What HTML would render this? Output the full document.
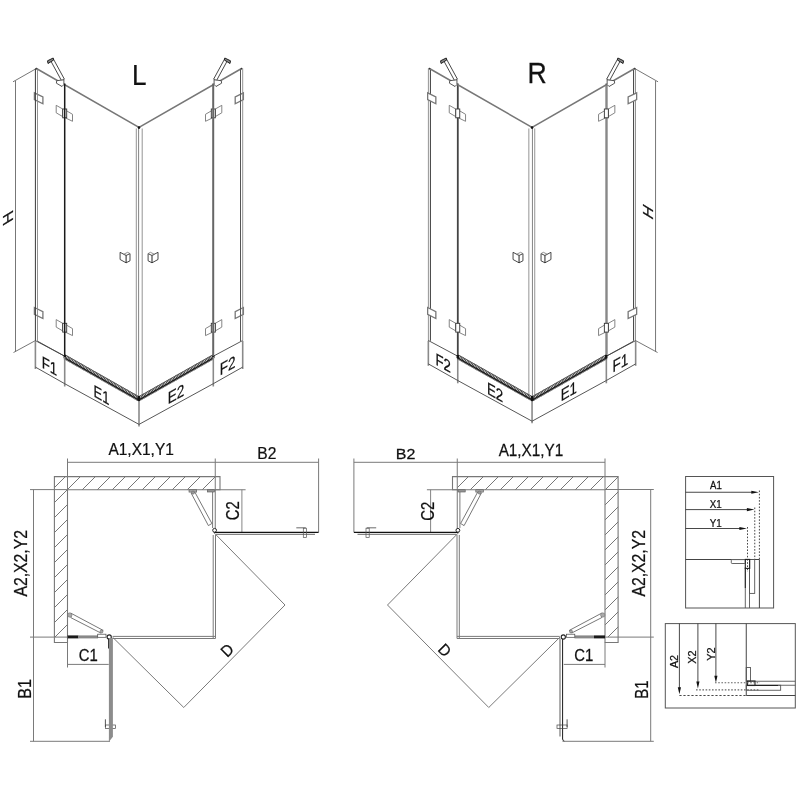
<!DOCTYPE html>
<html><head><meta charset="utf-8"><style>
html,body{margin:0;padding:0;background:#fff;}
svg{display:block;}
text{font-family:"Liberation Sans", sans-serif;fill:#111;stroke:#111;stroke-width:0.25px;}
svg{filter:grayscale(100%);}
</style></head><body>
<svg width="800" height="800" viewBox="0 0 800 800">
<rect width="800" height="800" fill="#fff"/>
<defs><clipPath id="wl"><polygon points="54.4,476.6 215.25,476.6 215.25,489.75 67.5,489.75 67.5,637.1 54.4,637.1"/></clipPath>
<clipPath id="wr"><polygon points="618.2,476.6 457.35,476.6 457.35,489.75 605.1,489.75 605.1,637.1 618.2,637.1"/></clipPath></defs>
<g id="iso">
<polyline points="36.40,68.50 139.00,127.30 241.60,68.50" stroke="#777" stroke-width="1.5" fill="none" />
<line x1="136.30" y1="128.50" x2="136.30" y2="395.50" stroke="#888" stroke-width="0.9" />
<line x1="138.60" y1="127.50" x2="138.60" y2="397.00" stroke="#777" stroke-width="0.9" />
<line x1="142.20" y1="128.50" x2="142.20" y2="395.50" stroke="#888" stroke-width="0.9" />
<polyline points="64.70,356.90 138.80,398.90 213.30,356.90" stroke="#3c3c3c" stroke-width="4.6" fill="none" stroke-dasharray="1.0,0.6" stroke-linejoin="miter"/>
<polyline points="64.70,354.60 138.80,396.60 213.30,354.60" stroke="#555" stroke-width="0.9" fill="none" />
<polyline points="64.70,359.20 138.80,401.20 213.30,359.20" stroke="#888" stroke-width="0.8" fill="none" />
<polyline points="64.70,358.00 138.80,400.00 213.30,358.00" stroke="#1a1a1a" stroke-width="1.4" fill="none" />
<polyline points="35.40,340.60 64.70,356.20" stroke="#444" stroke-width="0.9" fill="none" />
<polyline points="37.50,341.20 64.70,356.20" stroke="#444" stroke-width="0.9" fill="none" />
<polyline points="213.30,356.20 242.70,340.50" stroke="#444" stroke-width="0.9" fill="none" />
<circle cx="139" cy="127.6" r="1.3" fill="#111"/>
<rect x="63.6" y="355" width="2.4" height="3" fill="#111"/>
<rect x="212.1" y="355" width="2.4" height="3" fill="#111"/>
<rect x="137.6" y="396" width="2.4" height="5" fill="#111"/>
<circle cx="36.4" cy="68.6" r="0.9" fill="#333"/>
<circle cx="241.6" cy="68.6" r="0.9" fill="#333"/>
<polygon points="34.40,92.80 42.90,97.00 42.90,103.80 34.40,99.60" stroke="#777" stroke-width="1.3" fill="#fff" />
<polygon points="243.40,92.80 235.20,97.00 235.20,103.80 243.40,99.60" stroke="#777" stroke-width="1.3" fill="#fff" />
<polygon points="34.40,307.50 42.90,311.70 42.90,318.50 34.40,314.30" stroke="#777" stroke-width="1.3" fill="#fff" />
<polygon points="243.40,307.50 235.20,311.70 235.20,318.50 243.40,314.30" stroke="#777" stroke-width="1.3" fill="#fff" />
<polygon points="56.20,105.30 62.70,109.00 62.70,116.60 56.20,112.80" stroke="#777" stroke-width="0.9" fill="#fff" />
<polygon points="65.70,110.30 72.50,114.30 72.50,121.30 65.70,118.00" stroke="#777" stroke-width="0.9" fill="#fff" />
<rect x="62.70" y="109.00" width="4" height="8.8" fill="#fff" stroke="#333" stroke-width="0.9"/>
<polygon points="221.80,105.30 215.30,109.00 215.30,116.60 221.80,112.80" stroke="#777" stroke-width="0.9" fill="#fff" />
<polygon points="212.30,110.30 205.50,114.30 205.50,121.30 212.30,118.00" stroke="#777" stroke-width="0.9" fill="#fff" />
<rect x="211.30" y="109.00" width="4" height="8.8" fill="#fff" stroke="#333" stroke-width="0.9"/>
<polygon points="56.20,319.60 62.70,323.30 62.70,330.90 56.20,327.10" stroke="#777" stroke-width="0.9" fill="#fff" />
<polygon points="65.70,324.60 72.50,328.60 72.50,335.60 65.70,332.30" stroke="#777" stroke-width="0.9" fill="#fff" />
<rect x="62.70" y="323.30" width="4" height="8.8" fill="#fff" stroke="#333" stroke-width="0.9"/>
<polygon points="221.80,319.60 215.30,323.30 215.30,330.90 221.80,327.10" stroke="#777" stroke-width="0.9" fill="#fff" />
<polygon points="212.30,324.60 205.50,328.60 205.50,335.60 212.30,332.30" stroke="#777" stroke-width="0.9" fill="#fff" />
<rect x="211.30" y="323.30" width="4" height="8.8" fill="#fff" stroke="#333" stroke-width="0.9"/>
<polygon points="50.85,61.05 53.65,59.45 64.40,79.20 61.60,80.80" stroke="#333" stroke-width="0.9" fill="#fff" />
<polygon points="47.50,60.80 53.20,58.00 53.70,60.00 48.00,63.50" stroke="#222" stroke-width="1" fill="#888" />
<polygon points="56.70,80.70 63.90,79.80 63.90,84.50 62.00,86.50 56.40,83.20" stroke="#444" stroke-width="0.9" fill="#fff" />
<polygon points="227.15,61.05 224.35,59.45 213.60,79.20 216.40,80.80" stroke="#333" stroke-width="0.9" fill="#fff" />
<polygon points="230.50,60.80 224.80,58.00 224.30,60.00 230.00,63.50" stroke="#222" stroke-width="1" fill="#888" />
<polygon points="221.30,80.70 214.10,79.80 214.10,84.50 216.00,86.50 221.60,83.20" stroke="#444" stroke-width="0.9" fill="#fff" />
<polyline points="120.10,252.30 126.10,255.50 130.00,253.60 130.00,260.80 126.10,262.80 120.10,259.50 120.10,252.30" stroke="#333" stroke-width="0.9" fill="#fff" />
<line x1="126.10" y1="255.50" x2="126.10" y2="262.80" stroke="#222" stroke-width="1.0" />
<polyline points="126.10,255.50 123.80,254.20 127.70,252.30 130.00,253.60" stroke="#777" stroke-width="0.8" fill="none" />
<polyline points="158.00,252.30 152.00,255.50 148.10,253.60 148.10,260.80 152.00,262.80 158.00,259.50 158.00,252.30" stroke="#333" stroke-width="0.9" fill="#fff" />
<line x1="152.00" y1="255.50" x2="152.00" y2="262.80" stroke="#222" stroke-width="1.0" />
<polyline points="152.00,255.50 154.30,254.20 150.40,252.30 148.10,253.60" stroke="#777" stroke-width="0.8" fill="none" />
</g>
<g id="hdim">
<line x1="15.50" y1="81.00" x2="15.50" y2="351.50" stroke="#777" stroke-width="1.0" />
<line x1="13.00" y1="81.80" x2="36.40" y2="68.50" stroke="#666" stroke-width="0.9" />
<line x1="13.50" y1="352.50" x2="35.40" y2="340.60" stroke="#666" stroke-width="0.9" />
</g>
<line x1="35.40" y1="68.50" x2="35.40" y2="340.80" stroke="#3a3a3a" stroke-width="1" />
<line x1="37.50" y1="69.50" x2="37.50" y2="341.20" stroke="#888" stroke-width="0.9" />
<line x1="240.50" y1="69.50" x2="240.50" y2="341.20" stroke="#555" stroke-width="1" />
<line x1="242.70" y1="68.50" x2="242.70" y2="340.50" stroke="#888" stroke-width="0.9" />
<line x1="64.70" y1="83.50" x2="64.70" y2="356.20" stroke="#1a1a1a" stroke-width="1.5" />
<line x1="213.20" y1="83.50" x2="213.20" y2="356.20" stroke="#666" stroke-width="2.0" />
<line x1="35.40" y1="341.00" x2="35.40" y2="369.00" stroke="#8a8a8a" stroke-width="1.6" />
<line x1="64.70" y1="357.00" x2="64.70" y2="386.50" stroke="#8a8a8a" stroke-width="1.6" />
<line x1="139.00" y1="401.00" x2="139.00" y2="426.50" stroke="#8a8a8a" stroke-width="1.6" />
<line x1="213.30" y1="357.00" x2="213.30" y2="386.50" stroke="#8a8a8a" stroke-width="1.6" />
<line x1="242.70" y1="341.00" x2="242.70" y2="369.00" stroke="#8a8a8a" stroke-width="1.6" />
<polyline points="35.40,367.10 64.70,383.70 139.00,424.40 213.30,383.70 242.70,367.10" stroke="#444" stroke-width="0.9" fill="none" />
<line x1="428.40" y1="68.50" x2="428.40" y2="341.20" stroke="#888" stroke-width="0.9" />
<line x1="430.40" y1="69.50" x2="430.40" y2="340.80" stroke="#3a3a3a" stroke-width="1" />
<line x1="633.60" y1="69.50" x2="633.60" y2="340.80" stroke="#3a3a3a" stroke-width="1" />
<line x1="635.50" y1="68.50" x2="635.50" y2="341.20" stroke="#888" stroke-width="0.9" />
<line x1="457.80" y1="83.50" x2="457.80" y2="356.20" stroke="#444" stroke-width="1.8" />
<line x1="606.50" y1="83.50" x2="606.50" y2="356.20" stroke="#888" stroke-width="2.4" />
<line x1="635.65" y1="341.00" x2="635.65" y2="365.80" stroke="#8a8a8a" stroke-width="1.6" />
<line x1="606.35" y1="357.00" x2="606.35" y2="383.30" stroke="#8a8a8a" stroke-width="1.6" />
<line x1="532.05" y1="401.00" x2="532.05" y2="423.30" stroke="#8a8a8a" stroke-width="1.6" />
<line x1="457.75" y1="357.00" x2="457.75" y2="383.30" stroke="#8a8a8a" stroke-width="1.6" />
<line x1="428.35" y1="341.00" x2="428.35" y2="365.80" stroke="#8a8a8a" stroke-width="1.6" />
<polyline points="635.65,363.90 606.35,380.50 532.05,421.20 457.75,380.50 428.35,363.90" stroke="#444" stroke-width="0.9" fill="none" />
<use href="#iso" transform="matrix(-1,0,0,1,671.05,0)"/>
<use href="#hdim" transform="matrix(-1,0,0,1,671.05,0)"/>
<g id="plan">
<polygon points="54.40,476.60 220.00,476.60 220.00,489.75 67.50,489.75 67.50,642.50 54.40,642.50" stroke="#777" stroke-width="1.1" fill="none" />
<line x1="67.50" y1="458.50" x2="67.50" y2="489.75" stroke="#7a7a7a" stroke-width="1.0" />
<line x1="215.25" y1="458.50" x2="215.25" y2="489.75" stroke="#7a7a7a" stroke-width="1.0" />
<line x1="318.60" y1="458.50" x2="318.60" y2="532.50" stroke="#7a7a7a" stroke-width="1.0" />
<line x1="67.50" y1="462.30" x2="318.60" y2="462.30" stroke="#7a7a7a" stroke-width="1.0" />
<line x1="215.00" y1="489.75" x2="245.60" y2="489.75" stroke="#7a7a7a" stroke-width="1.0" />
<line x1="241.90" y1="489.75" x2="241.90" y2="532.00" stroke="#777" stroke-width="0.9" />
<line x1="67.50" y1="642.50" x2="67.50" y2="667.50" stroke="#7a7a7a" stroke-width="1.0" />
<line x1="67.50" y1="664.40" x2="108.75" y2="664.40" stroke="#7a7a7a" stroke-width="1.0" />
<line x1="212.60" y1="489.75" x2="212.60" y2="528.00" stroke="#7a7a7a" stroke-width="1.0" />
<line x1="215.25" y1="489.75" x2="215.25" y2="528.00" stroke="#666" stroke-width="0.9" />
<line x1="213.90" y1="532.40" x2="318.50" y2="532.40" stroke="#111" stroke-width="1.15" />
<line x1="216.00" y1="534.30" x2="315.00" y2="534.30" stroke="#666" stroke-width="1.0" />
<circle cx="214.6" cy="530.3" r="1.9" fill="#fff" stroke="#222" stroke-width="1"/>
<line x1="213.20" y1="535.00" x2="213.20" y2="638.50" stroke="#7a7a7a" stroke-width="1.0" />
<line x1="215.50" y1="535.00" x2="215.50" y2="638.50" stroke="#7a7a7a" stroke-width="1.0" />
<line x1="112.75" y1="636.40" x2="215.50" y2="636.40" stroke="#7a7a7a" stroke-width="1.0" />
<line x1="112.75" y1="638.50" x2="215.50" y2="638.50" stroke="#7a7a7a" stroke-width="1.0" />
<line x1="67.50" y1="636.90" x2="78.50" y2="636.90" stroke="#1a1a1a" stroke-width="3.0" />
<line x1="78.50" y1="636.90" x2="98.00" y2="636.90" stroke="#888" stroke-width="3.0" />
<circle cx="109.2" cy="637" r="2.1" fill="#fff" stroke="#222" stroke-width="1.1"/>
<line x1="213.75" y1="532.50" x2="285.00" y2="605.00" stroke="#7a7a7a" stroke-width="1.0" />
<line x1="112.50" y1="637.10" x2="183.75" y2="707.50" stroke="#7a7a7a" stroke-width="1.0" />
<line x1="183.75" y1="707.50" x2="285.00" y2="605.00" stroke="#7a7a7a" stroke-width="1.0" />
<polygon points="191.20,493.20 195.00,492.40 211.90,523.50 208.40,525.60" stroke="#555" stroke-width="0.8" fill="#fff" />
<polygon points="70.90,613.20 103.20,630.40 100.60,632.90 70.90,617.70" stroke="#555" stroke-width="0.8" fill="#fff" />
<rect x="189" y="489.8" width="7.7" height="2.3" fill="#aaa" stroke="#555" stroke-width="0.6"/>
<rect x="207.3" y="489.8" width="7.2" height="2.2" fill="#999" stroke="#555" stroke-width="0.6"/>
<circle cx="193" cy="492.6" r="1.6" fill="#999" stroke="#666" stroke-width="0.5"/>
<rect x="97.7" y="634.2" width="8.3" height="3.1" fill="#fff" stroke="#444" stroke-width="0.7"/>
<circle cx="69.8" cy="615" r="2.2" fill="#aaa" stroke="#666" stroke-width="0.5"/>
<circle cx="101.5" cy="631.5" r="1.5" fill="#aaa" stroke="#555" stroke-width="0.5"/>
<polyline points="296.30,527.80 305.80,527.80" stroke="#777" stroke-width="1.1" fill="none" />
<rect x="303.3" y="528.2" width="3.2" height="9.3" fill="none" stroke="#555" stroke-width="0.7"/>
<polyline points="105.40,719.30 105.40,727.00" stroke="#444" stroke-width="0.9" fill="none" />
<rect x="105.4" y="725" width="10.1" height="3.6" fill="none" stroke="#444" stroke-width="0.7"/>
</g>
<polygon points="108.9,638 112.9,638 112.9,736.8 109.3,741.3 108.9,741.3" fill="#8c8c8c" stroke="none"/>
<line x1="108.50" y1="638.50" x2="108.50" y2="648.50" stroke="#222" stroke-width="0.9" />
<line x1="560.00" y1="638.50" x2="560.00" y2="736.50" stroke="#8a8a8a" stroke-width="1.4" />
<path d="M562.6,638.5 L562.6,739 Q562.8,741 564.5,741.3" fill="none" stroke="#1a1a1a" stroke-width="1"/>
<line x1="30.00" y1="489.60" x2="67.50" y2="489.60" stroke="#7a7a7a" stroke-width="1.0" />
<line x1="33.50" y1="489.60" x2="33.50" y2="741.30" stroke="#7a7a7a" stroke-width="1.0" />
<line x1="30.00" y1="637.10" x2="67.50" y2="637.10" stroke="#7a7a7a" stroke-width="1.0" />
<line x1="30.00" y1="741.30" x2="110.00" y2="741.30" stroke="#7a7a7a" stroke-width="1.0" />
<line x1="605.00" y1="489.50" x2="653.80" y2="489.50" stroke="#7a7a7a" stroke-width="1.0" />
<line x1="650.70" y1="489.50" x2="650.70" y2="741.30" stroke="#7a7a7a" stroke-width="1.0" />
<line x1="605.00" y1="637.10" x2="653.80" y2="637.10" stroke="#7a7a7a" stroke-width="1.0" />
<line x1="562.50" y1="741.30" x2="653.80" y2="741.30" stroke="#7a7a7a" stroke-width="1.0" />
<use href="#plan" transform="matrix(-1,0,0,1,672.5,0)"/>
<g clip-path="url(#wl)" stroke="#777" stroke-width="1.0"><line x1="24" y1="488" x2="246" y2="266"/><line x1="24" y1="503" x2="246" y2="281"/><line x1="24" y1="518" x2="246" y2="296"/><line x1="24" y1="533" x2="246" y2="311"/><line x1="24" y1="548" x2="246" y2="326"/><line x1="24" y1="563" x2="246" y2="341"/><line x1="24" y1="578" x2="246" y2="356"/><line x1="24" y1="593" x2="246" y2="371"/><line x1="24" y1="608" x2="246" y2="386"/><line x1="24" y1="623" x2="246" y2="401"/><line x1="24" y1="638" x2="246" y2="416"/><line x1="24" y1="653" x2="246" y2="431"/><line x1="24" y1="668" x2="246" y2="446"/><line x1="24" y1="683" x2="246" y2="461"/><line x1="24" y1="698" x2="246" y2="476"/><line x1="24" y1="713" x2="246" y2="491"/><line x1="24" y1="728" x2="246" y2="506"/><line x1="24" y1="743" x2="246" y2="521"/><line x1="24" y1="758" x2="246" y2="536"/><line x1="24" y1="773" x2="246" y2="551"/><line x1="24" y1="788" x2="246" y2="566"/><line x1="24" y1="803" x2="246" y2="581"/><line x1="24" y1="818" x2="246" y2="596"/><line x1="24" y1="833" x2="246" y2="611"/></g>
<g clip-path="url(#wr)" stroke="#777" stroke-width="1.0"><line x1="427" y1="488" x2="649" y2="266"/><line x1="427" y1="503" x2="649" y2="281"/><line x1="427" y1="518" x2="649" y2="296"/><line x1="427" y1="533" x2="649" y2="311"/><line x1="427" y1="548" x2="649" y2="326"/><line x1="427" y1="563" x2="649" y2="341"/><line x1="427" y1="578" x2="649" y2="356"/><line x1="427" y1="593" x2="649" y2="371"/><line x1="427" y1="608" x2="649" y2="386"/><line x1="427" y1="623" x2="649" y2="401"/><line x1="427" y1="638" x2="649" y2="416"/><line x1="427" y1="653" x2="649" y2="431"/><line x1="427" y1="668" x2="649" y2="446"/><line x1="427" y1="683" x2="649" y2="461"/><line x1="427" y1="698" x2="649" y2="476"/><line x1="427" y1="713" x2="649" y2="491"/><line x1="427" y1="728" x2="649" y2="506"/><line x1="427" y1="743" x2="649" y2="521"/><line x1="427" y1="758" x2="649" y2="536"/><line x1="427" y1="773" x2="649" y2="551"/><line x1="427" y1="788" x2="649" y2="566"/><line x1="427" y1="803" x2="649" y2="581"/><line x1="427" y1="818" x2="649" y2="596"/><line x1="427" y1="833" x2="649" y2="611"/></g>
<g id="det">
<rect x="685.6" y="476.5" width="88" height="131.5" fill="none" stroke="#555" stroke-width="1"/>
<line x1="685.60" y1="492.25" x2="752.30" y2="492.25" stroke="#333" stroke-width="0.9" />
<polygon points="751.30,490.65 758.80,492.25 751.30,493.85" stroke="none" stroke-width="0" fill="#111" />
<line x1="685.60" y1="509.60" x2="747.90" y2="509.60" stroke="#333" stroke-width="0.9" />
<polygon points="746.90,508.00 754.40,509.60 746.90,511.20" stroke="none" stroke-width="0" fill="#111" />
<line x1="685.60" y1="528.50" x2="740.40" y2="528.50" stroke="#333" stroke-width="0.9" />
<polygon points="739.40,526.90 746.90,528.50 739.40,530.10" stroke="none" stroke-width="0" fill="#111" />
<line x1="759.40" y1="490.50" x2="759.40" y2="559.50" stroke="#333" stroke-width="0.9" stroke-dasharray="1.6,1.6"/>
<line x1="754.75" y1="507.50" x2="754.75" y2="559.50" stroke="#333" stroke-width="0.9" stroke-dasharray="1.6,1.6"/>
<line x1="747.50" y1="527.00" x2="747.50" y2="572.00" stroke="#333" stroke-width="0.9" stroke-dasharray="1.6,1.6"/>
<line x1="685.60" y1="559.50" x2="759.40" y2="559.50" stroke="#444" stroke-width="1" />
<line x1="759.40" y1="559.50" x2="759.40" y2="608.00" stroke="#444" stroke-width="1" />
<line x1="745.30" y1="567.00" x2="745.30" y2="608.00" stroke="#555" stroke-width="0.9" />
<line x1="749.50" y1="559.50" x2="749.50" y2="608.00" stroke="#555" stroke-width="0.9" />
<rect x="749.5" y="559.5" width="5.2" height="33.9" fill="none" stroke="#555" stroke-width="0.9"/>
<rect x="731.3" y="559.6" width="14" height="3.9" rx="0.8" fill="#fff" stroke="#555" stroke-width="0.9"/>
<rect x="745.3" y="559.4" width="4.4" height="9" fill="none" stroke="#222" stroke-width="1.1"/>
<line x1="745.30" y1="568.00" x2="745.30" y2="588.00" stroke="#222" stroke-width="1" />
<rect x="665.3" y="623.6" width="130" height="84.4" fill="none" stroke="#555" stroke-width="1"/>
<line x1="746.25" y1="623.60" x2="746.25" y2="695.50" stroke="#444" stroke-width="1" />
<line x1="746.25" y1="695.50" x2="795.30" y2="695.50" stroke="#444" stroke-width="1" />
<line x1="746.25" y1="681.25" x2="795.30" y2="681.25" stroke="#555" stroke-width="0.9" />
<line x1="746.25" y1="685.25" x2="795.30" y2="685.25" stroke="#555" stroke-width="0.9" />
<rect x="746.25" y="685.25" width="34.4" height="5" fill="none" stroke="#555" stroke-width="0.9"/>
<rect x="746.25" y="667.5" width="4.3" height="13.75" fill="none" stroke="#555" stroke-width="0.9"/>
<rect x="747.5" y="681" width="7.5" height="4.5" fill="none" stroke="#222" stroke-width="1.1"/>
<line x1="749.00" y1="685.50" x2="778.00" y2="685.50" stroke="#222" stroke-width="1" />
<line x1="679.40" y1="623.60" x2="679.40" y2="688.30" stroke="#333" stroke-width="0.9" />
<polygon points="677.80,687.30 679.40,694.30 681.00,687.30" stroke="none" stroke-width="0" fill="#111" />
<line x1="697.90" y1="623.60" x2="697.90" y2="682.60" stroke="#333" stroke-width="0.9" />
<polygon points="696.30,681.60 697.90,688.60 699.50,681.60" stroke="none" stroke-width="0" fill="#111" />
<line x1="715.90" y1="623.60" x2="715.90" y2="676.75" stroke="#333" stroke-width="0.9" />
<polygon points="714.30,675.75 715.90,682.75 717.50,675.75" stroke="none" stroke-width="0" fill="#111" />
<line x1="679.40" y1="695.50" x2="746.25" y2="695.50" stroke="#333" stroke-width="0.9" stroke-dasharray="2.2,1.8"/>
<line x1="696.00" y1="689.90" x2="760.00" y2="689.90" stroke="#666" stroke-width="1.1" stroke-dasharray="1.6,1.6"/>
<line x1="715.00" y1="682.75" x2="760.00" y2="682.75" stroke="#666" stroke-width="1.1" stroke-dasharray="1.6,1.6"/>
</g>
<text transform="matrix(0.8839,0,0,1,131.91,84.75)" font-size="29.49" >L</text><text transform="matrix(0.8923,0,0,1,527.62,83.10)" font-size="29.86" >R</text><text transform="matrix(0.7786,0.4415,0,1,41.74,367.40)" font-size="17.00" >F1</text><text transform="matrix(0.7636,0.4330,0,1,93.56,396.31)" font-size="17.00" >E1</text><text transform="matrix(0.7933,-0.4498,0,1,167.72,404.51)" font-size="17.00" >E2</text><text transform="matrix(0.7957,-0.4512,0,1,219.72,375.81)" font-size="17.00" >F2</text><text transform="matrix(0.7786,0.4415,0,1,435.54,364.40)" font-size="17.00" >F2</text><text transform="matrix(0.7825,0.4437,0,1,486.94,393.40)" font-size="17.00" >E2</text><text transform="matrix(0.7825,-0.4437,0,1,560.74,401.50)" font-size="17.00" >E1</text><text transform="matrix(0.7957,-0.4512,0,1,612.52,372.81)" font-size="17.00" >F1</text><text transform="matrix(0,-1.1,1,-0.6,12.9,220.8)" font-size="14.5">H</text><text transform="matrix(0,-1.1,1,0.6,652.9,220.5)" font-size="14.5">H</text><text transform="matrix(0.9097,0,0,1,108.42,455.25)" font-size="17.03" >A1,X1,Y1</text><text transform="matrix(0.9098,0,0,1,257.25,459.00)" font-size="17.14" >B2</text><text transform="matrix(1.0703,0,0,1,395.72,459.00)" font-size="15.00" >B2</text><text transform="matrix(0.8977,0,0,1,498.67,456.25)" font-size="17.03" >A1,X1,Y1</text><text transform="matrix(0.9066,0,0,1,78.66,660.90)" font-size="16.43" >C1</text><text transform="matrix(0.9066,0,0,1,574.26,660.90)" font-size="16.43" >C1</text><text transform="matrix(0,-0.8980,1,0,26.90,596.58)" font-size="17.57" >A2,X2,Y2</text><text transform="matrix(0,-0.8980,1,0,644.80,596.58)" font-size="17.57" >A2,X2,Y2</text><text transform="matrix(0,-0.8340,1,0,238.75,520.14)" font-size="17.86" >C2</text><text transform="matrix(0,-0.8340,1,0,433.75,520.74)" font-size="17.86" >C2</text><text transform="matrix(0,-0.9043,1,0,31.00,698.78)" font-size="17.75" >B1</text><text transform="matrix(0,-0.8397,1,0,647.75,698.69)" font-size="17.75" >B1</text><text transform="translate(227.30,657.90) rotate(-45) scale(0.94,1)" font-size="16.00" >D</text><text transform="translate(437.00,650.20) rotate(45) scale(0.94,1)" font-size="16.00" >D</text><text transform="matrix(0.8884,0,0,1,709.95,489.40)" font-size="10.87" >A1</text><text transform="matrix(0.9039,0,0,1,709.75,507.50)" font-size="10.87" >X1</text><text transform="matrix(0.9039,0,0,1,709.75,526.90)" font-size="10.87" >Y1</text><text transform="matrix(0,-0.9691,1,0,677.50,668.05)" font-size="11.07" >A2</text><text transform="matrix(0,-0.9377,1,0,696.25,663.87)" font-size="11.64" >X2</text><text transform="matrix(0,-0.9434,1,0,714.60,660.77)" font-size="11.57" >Y2</text>
</svg>
</body></html>
